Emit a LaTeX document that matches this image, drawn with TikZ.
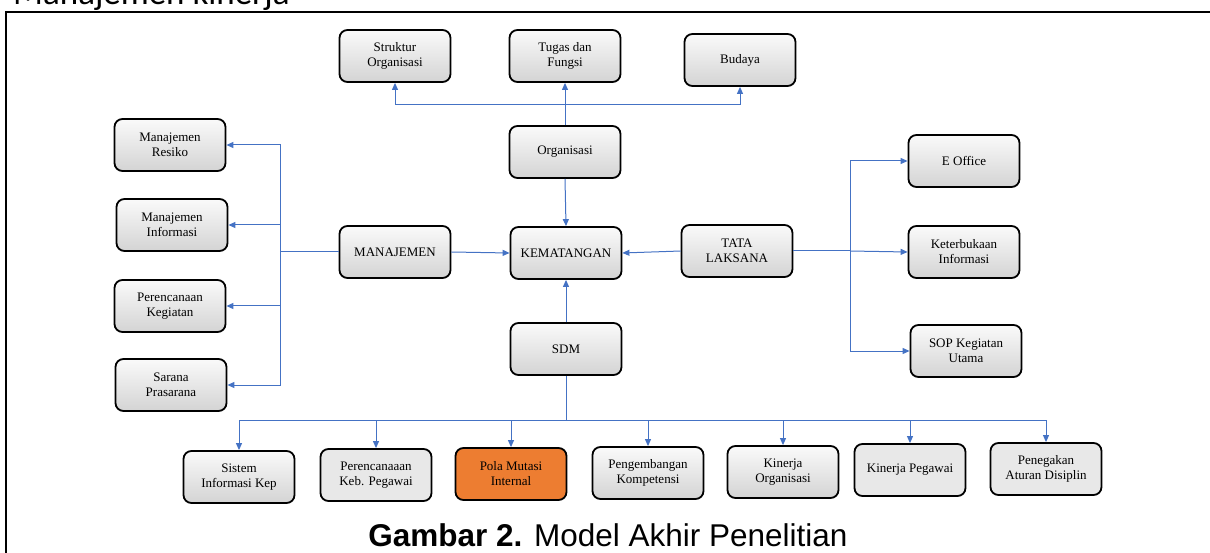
\documentclass[tikz,border=0pt]{standalone}
\usepackage{fontspec}
\setmainfont{Liberation Serif}
\newfontfamily\capfont{Liberation Sans}
\newfontfamily\headfont{Carlito}
\usetikzlibrary{arrows.meta}
\definecolor{linkblue}{HTML}{4472C4}
\definecolor{boxorange}{HTML}{ED7D31}
\begin{document}
\begin{tikzpicture}[x=1pt,y=-1pt,
  box/.style={draw=black, line width=1.8pt, rounded corners=8pt,
    minimum width=111pt, minimum height=52pt, inner sep=2pt, align=center,
    top color=gray!4, bottom color=gray!34,
    font=\fontsize{13}{15}\selectfont},
  flatbox/.style={box, top color=gray!18, bottom color=gray!18},
  orangebox/.style={box, top color=boxorange, bottom color=boxorange},
  conn/.style={draw=linkblue, line width=1pt},
  arr/.style={conn, -{Triangle[length=7pt,width=6pt]}}]
\useasboundingbox (0,0) rectangle (1210,553);
% frame and cut heading
\draw[line width=2.5pt] (6,600) -- (6,12) -- (1230,12);
\node[anchor=base west, inner sep=0pt, font=\headfont\fontsize{35}{40}\selectfont] (head) at (13,5) {Manajemen kinerja};
% top row
\node[box] (str) at (395,56) {Struktur\\Organisasi};
\node[box] (tug) at (565,56) {Tugas dan\\Fungsi};
\node[box] (bud) at (740,60) {Budaya};
% centre
\node[box] (org) at (565,152) {Organisasi};
\node[box] (kem) at (566,253) {KEMATANGAN};
\node[box] (man) at (395,252) {MANAJEMEN};
\node[box] (tat) at (737,251) {TATA\\LAKSANA};
\node[box] (sdm) at (566,349) {SDM};
% left column
\node[box] (mr) at (170,145) {Manajemen\\Resiko};
\node[box] (mi) at (172,225) {Manajemen\\Informasi};
\node[box] (pk) at (170,306) {Perencanaan\\Kegiatan};
\node[box] (sp) at (171,385) {Sarana\\Prasarana};
% right column
\node[box] (eo) at (964,161) {E Office};
\node[box] (kt) at (964,252) {Keterbukaan\\Informasi};
\node[box] (sop) at (966,351) {SOP Kegiatan\\Utama};
% bottom row
\node[box] (sik) at (239,477) {Sistem\\Informasi Kep};
\node[flatbox] (pkp) at (376,475) {Perencanaaan\\Keb. Pegawai};
\node[orangebox] (pmi) at (511,474) {Pola Mutasi\\Internal};
\node[box] (pko) at (648,473) {Pengembangan\\Kompetensi};
\node[box] (ko) at (783,472) {Kinerja\\Organisasi};
\node[flatbox] (kp) at (910,470) {Kinerja Pegawai};
\node[flatbox] (pad) at (1046,469) {Penegakan\\Aturan Disiplin};
% caption
\node[anchor=base, inner sep=0pt, font=\capfont\fontsize{31.5}{36}\selectfont] (cap) at (608,546) {\textbf{Gambar 2.} Model Akhir Penelitian};
% bus points
\coordinate (topbus) at (565,105);
\coordinate (lbus) at (280,252);
\coordinate (rbus) at (850,251);
\coordinate (bbus) at (566,420);
% top connectors
\draw[arr] (org.north) -- (tug.south);
\draw[arr] (topbus) -| (str.south);
\draw[arr] (topbus) -| (bud.south);
% into KEMATANGAN
\draw[arr] (org.south) -- (kem.north);
\draw[arr] (man.east) -- (kem.west);
\draw[arr] (tat.west) -- (kem.east);
\draw[arr] (sdm.north) -- (kem.south);
% left
\draw[conn] (man.west) -- (lbus);
\draw[arr] (lbus) |- (mr.east);
\draw[arr] (lbus) |- (mi.east);
\draw[arr] (lbus) |- (pk.east);
\draw[arr] (lbus) |- (sp.east);
% right
\draw[conn] (tat.east) -- (rbus);
\draw[arr] (rbus) |- (eo.west);
\draw[arr] (rbus) -- (kt.west);
\draw[arr] (rbus) |- (sop.west);
% bottom
\draw[conn] (sdm.south) -- (bbus);
\draw[arr] (bbus) -| (sik.north);
\draw[arr] (bbus) -| (pkp.north);
\draw[arr] (bbus) -| (pmi.north);
\draw[arr] (bbus) -| (pko.north);
\draw[arr] (bbus) -| (ko.north);
\draw[arr] (bbus) -| (kp.north);
\draw[arr] (bbus) -| (pad.north);
\end{tikzpicture}
\end{document}
